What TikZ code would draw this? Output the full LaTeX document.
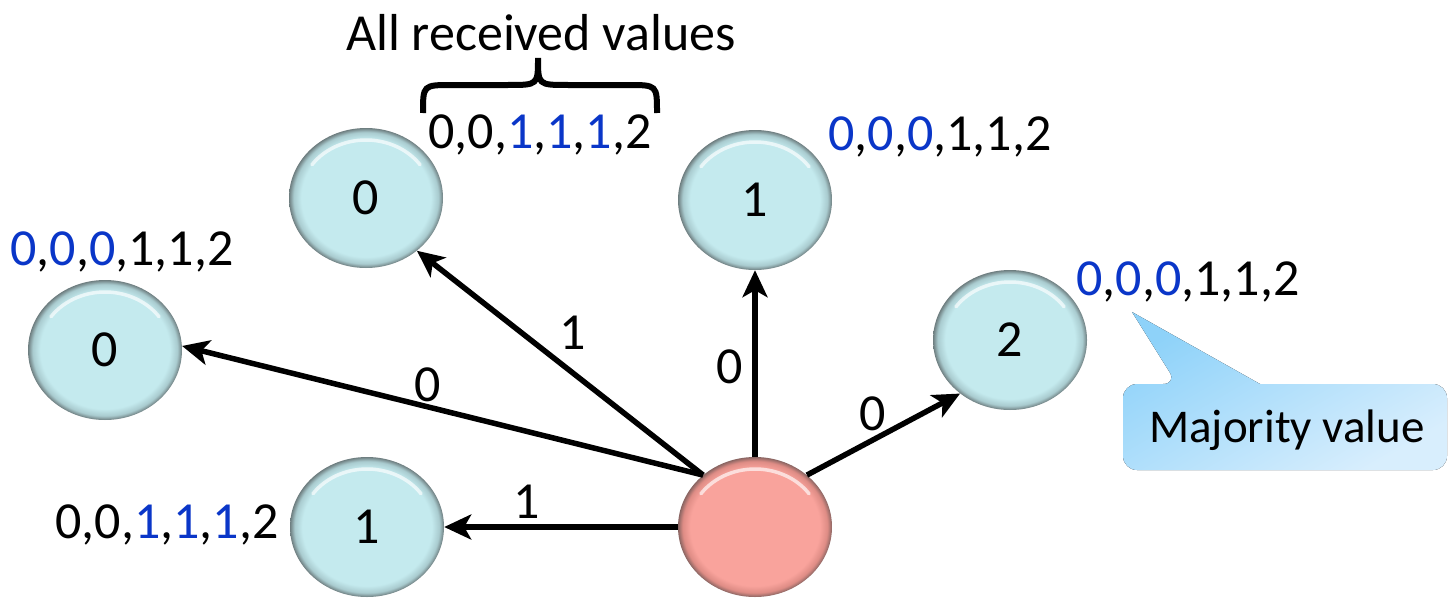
\documentclass[tikz,border=0pt]{standalone}
\usepackage{fontspec}
\setmainfont{Carlito}
\usetikzlibrary{shapes.geometric,arrows.meta}
\definecolor{cyanF}{HTML}{C4EAEE}
\definecolor{cyanE}{HTML}{A9CBCF}
\definecolor{cyanR}{HTML}{6E7E80}
\definecolor{redF}{HTML}{F9A39C}
\definecolor{redE}{HTML}{DE8C85}
\definecolor{redR}{HTML}{8A6562}
\definecolor{valblue}{HTML}{0A36C8}
\definecolor{callA}{HTML}{8ED2F9}
\definecolor{callB}{HTML}{D8EEFD}
\pgfdeclareradialshading{cyanball}{\pgfpoint{0bp}{0bp}}{color(0bp)=(cyanF); color(21bp)=(cyanF); color(23.5bp)=(cyanE); color(25bp)=(cyanR); color(26bp)=(cyanR)}
\pgfdeclareradialshading{redball}{\pgfpoint{0bp}{0bp}}{color(0bp)=(redF); color(21bp)=(redF); color(23.5bp)=(redE); color(25bp)=(redR); color(26bp)=(redR)}
\newcommand{\bl}[1]{\textcolor{valblue}{#1}}
\newcommand{\shine}[1]{\draw[white, opacity=0.65, line width=3.5pt, line cap=round] ([shift={(215:66 and 58)}]#1.center) arc[start angle=215, end angle=325, x radius=66, y radius=58];}
\tikzset{
  ball/.style={ellipse, minimum width=154pt, minimum height=140pt, inner sep=0pt, shading=cyanball, font=\fontsize{52}{60}\selectfont},
  rednode/.style={ellipse, minimum width=154pt, minimum height=140pt, inner sep=0pt, shading=redball},
  txt/.style={font=\fontsize{52}{60}\selectfont, inner sep=0pt},
  conn/.style={line width=5.5pt, -{Stealth[length=27pt,width=25pt,inset=7pt]}},
}
\begin{document}
\begin{tikzpicture}[x=1pt,y=-1pt]
\useasboundingbox (0,0) rectangle (1450,602);
% nodes
\node[ball] (nL) at (105,350) {0};
\node[ball] (nTL) at (366,198) {0};
\node[ball] (nT) at (755,200) {1};
\node[ball] (nR) at (1010,340) {2};
\node[ball] (nB) at (367,527) {1};
\node[rednode] (c) at (755,527) {};
\shine{nL}\shine{nTL}\shine{nT}\shine{nR}\shine{nB}\shine{c}
% connectors
\draw[conn] (c.135) -- (nL.3);
\draw[conn] (c.135) -- (nTL.-46);
\draw[conn] (c.90) -- (nT.south);
\draw[conn] (c.45) -- (nR.-133);
\draw[conn] (c.west) -- (nB.east);
% edge labels
\node[txt] (lL) at (428,385) {0};
\node[txt] (lTL) at (573,333) {1};
\node[txt] (lT) at (730,367) {0};
\node[txt] (lR) at (873,414) {0};
\node[txt] (lB) at (527,502) {1};
% value lists
\node[txt] (vTL) at (540,135) {0,0,\bl{1},\bl{1},\bl{1},2};
\node[txt] (vT) at (940,137) {\bl{0},\bl{0},\bl{0},1,1,2};
\node[txt] (vL) at (122,252) {\bl{0},\bl{0},\bl{0},1,1,2};
\node[txt] (vR) at (1188,282) {\bl{0},\bl{0},\bl{0},1,1,2};
\node[txt] (vB) at (167,525) {0,0,\bl{1},\bl{1},\bl{1},2};
% brace and title
\draw[line width=6pt] (423,113) .. controls (423,85) .. (452,85) -- (508,85) .. controls (538,85) .. (538,58) .. controls (538,85) .. (568,85) -- (628,85) .. controls (657,85) .. (657,113);
\node[txt] (title) at (541,33) {All received values};
% callout
\fill[top color=callA, bottom color=callB, shading angle=30, rounded corners=14pt] (1123,427) -- (1123,384) -- (1177,384) [sharp corners] -- (1132,312) -- (1260,384) [rounded corners=14pt] -- (1447,384) -- (1447,470) -- (1123,470) -- cycle;
\node[txt, font=\fontsize{47}{56}\selectfont] (maj) at (1287,430) {Majority value};
\end{tikzpicture}
\end{document}
